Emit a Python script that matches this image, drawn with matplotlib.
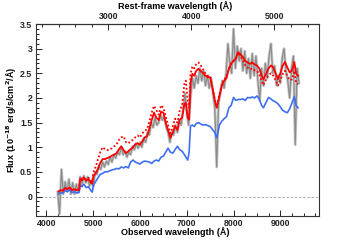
import numpy as np
import matplotlib
matplotlib.use("Agg")
import matplotlib.pyplot as plt
from matplotlib.ticker import MultipleLocator, FixedLocator

plt.rcParams['font.family'] = ['Liberation Sans', 'DejaVu Sans']

# model wavelength grid (Angstrom) and fluxes (1e-18 erg/s/cm2/A)
wave_model = [4260, 4300, 4350, 4400, 4450, 4500, 4550, 4600, 4650, 4700, 4720, 4760, 4800, 4850,
              4900, 4950, 4980, 5000, 5050, 5100, 5150, 5200, 5250, 5300, 5350, 5400, 5450, 5500,
              5550, 5600, 5650, 5700, 5750, 5800, 5850, 5900, 5950, 6000, 6050, 6100, 6150, 6200,
              6250, 6300, 6350, 6400, 6450, 6500, 6550, 6600, 6650, 6700, 6750, 6800, 6850, 6900,
              6950, 6980, 7020, 7050, 7080, 7120, 7160, 7200, 7250, 7300, 7350, 7400, 7450, 7500,
              7550, 7600, 7640, 7700, 7750, 7800, 7850, 7900, 7950, 8000, 8050, 8100, 8150, 8200,
              8250, 8300, 8350, 8400, 8450, 8500, 8550, 8600, 8640, 8700, 8750, 8800, 8850, 8900,
              8950, 9000, 9050, 9100, 9150, 9200, 9250, 9300, 9340, 9380]

red_solid = [0.10, 0.13, 0.12, 0.17, 0.15, 0.18, 0.13, 0.15, 0.13, 0.14, 0.36, 0.33, 0.38, 0.32,
             0.35, 0.28, 0.26, 0.40, 0.47, 0.56, 0.68, 0.76, 0.76, 0.78, 0.80, 0.83, 0.85, 0.88,
             0.96, 1.02, 0.94, 0.88, 0.92, 0.96, 1.00, 1.06, 1.08, 1.05, 1.12, 1.20, 1.22, 1.38,
             1.55, 1.70, 1.60, 1.55, 1.72, 1.70, 1.50, 1.35, 1.19, 1.30, 1.43, 1.35, 1.56, 1.60,
             1.88, 1.90, 1.60, 1.56, 2.30, 2.49, 2.45, 2.55, 2.59, 2.55, 2.50, 2.45, 2.42, 2.42,
             2.20, 1.95, 1.80, 2.05, 2.25, 2.35, 2.40, 2.59, 2.70, 2.75, 2.80, 2.93, 2.88, 2.83,
             2.75, 2.72, 2.69, 2.72, 2.68, 2.66, 2.60, 2.45, 2.38, 2.50, 2.60, 2.66, 2.62, 2.50,
             2.38, 2.50, 2.65, 2.73, 2.62, 2.52, 2.55, 2.73, 2.49, 2.45]

red_dotted = [0.10, 0.13, 0.12, 0.17, 0.15, 0.18, 0.13, 0.15, 0.13, 0.14, 0.37, 0.34, 0.40, 0.34,
              0.38, 0.32, 0.30, 0.48, 0.60, 0.75, 0.90, 1.00, 0.96, 0.94, 0.95, 0.98, 1.02, 1.06,
              1.15, 1.20, 1.22, 1.10, 1.08, 1.12, 1.15, 1.20, 1.24, 1.20, 1.28, 1.34, 1.36, 1.52,
              1.70, 1.84, 1.75, 1.66, 1.85, 1.80, 1.62, 1.45, 1.28, 1.42, 1.58, 1.50, 1.75, 1.85,
              2.30, 2.35, 1.95, 1.80, 2.48, 2.64, 2.60, 2.68, 2.72, 2.66, 2.58, 2.50, 2.45, 2.44,
              2.22, 1.97, 1.82, 2.07, 2.28, 2.38, 2.43, 2.60, 2.70, 2.75, 2.80, 2.92, 2.84, 2.76,
              2.66, 2.62, 2.58, 2.60, 2.56, 2.55, 2.48, 2.34, 2.26, 2.38, 2.46, 2.50, 2.45, 2.36,
              2.25, 2.36, 2.48, 2.55, 2.45, 2.36, 2.38, 2.55, 2.30, 2.28]

blue = [0.05, 0.08, 0.07, 0.12, 0.10, 0.14, 0.08, 0.10, 0.07, 0.09, 0.23, 0.20, 0.25, 0.18,
        0.20, 0.12, 0.09, 0.22, 0.30, 0.38, 0.45, 0.47, 0.50, 0.50, 0.52, 0.54, 0.55, 0.57,
        0.56, 0.60, 0.58, 0.61, 0.58, 0.70, 0.74, 0.70, 0.68, 0.66, 0.70, 0.72, 0.71, 0.70,
        0.67, 0.72, 0.74, 0.72, 0.80, 0.82, 0.90, 0.98, 0.90, 0.88, 0.95, 1.02, 0.95, 0.92,
        0.85, 0.80, 0.74, 0.90, 1.43, 1.45, 1.42, 1.48, 1.50, 1.47, 1.45, 1.46, 1.44, 1.42,
        1.36, 1.30, 1.19, 1.45, 1.53, 1.58, 1.62, 1.80, 1.85, 2.01, 1.95, 1.97, 1.97, 1.98,
        1.95, 2.01, 2.00, 2.02, 2.00, 2.04, 1.98, 1.85, 1.80, 1.92, 2.01, 1.98, 1.94, 1.92,
        1.88, 1.82, 1.75, 1.72, 1.70, 1.78, 1.90, 2.03, 1.84, 1.80]

# observed spectrum
wave_obs = [4240, 4280, 4320, 4360, 4400, 4440, 4480, 4520, 4560, 4600, 4640, 4680, 4720, 4760,
            4800, 4840, 4880, 4920, 4960, 5000, 5040, 5080, 5120, 5160, 5200, 5240, 5280, 5320,
            5360, 5400, 5440, 5480, 5520, 5560, 5600, 5640, 5680, 5720, 5760, 5800, 5840, 5880,
            5920, 5960, 6000, 6040, 6080, 6120, 6160, 6200, 6240, 6280, 6320, 6360, 6400, 6440,
            6480, 6520, 6560, 6600, 6640, 6680, 6720, 6760, 6800, 6840, 6880, 6920, 6960, 7000,
            7040, 7080, 7120, 7160, 7200, 7240, 7280, 7320, 7360, 7400, 7440, 7480, 7520, 7560,
            7600, 7640, 7680, 7720, 7760, 7800, 7840, 7880, 7920, 7960, 8000, 8040, 8080, 8120,
            8160, 8200, 8240, 8280, 8320, 8360, 8400, 8440, 8480, 8520, 8560, 8600, 8640, 8680,
            8720, 8760, 8800, 8840, 8880, 8920, 8960, 9000, 9040, 9080, 9120, 9160, 9200, 9240,
            9280, 9320, 9360, 9400]
flux_obs = [0.10, -0.35, 0.55, 0.05, 0.30, 0.10, 0.35, 0.05, 0.28, 0.05, 0.25, 0.08, 0.40, 0.25,
            0.42, 0.28, 0.40, 0.22, 0.32, 0.20, 0.50, 0.45, 0.62, 0.55, 0.70, 0.60, 0.72, 0.65,
            0.80, 0.70, 0.85, 0.78, 0.90, 0.85, 1.00, 0.85, 0.92, 0.80, 0.90, 0.85, 1.02, 0.95,
            1.08, 0.98, 1.10, 1.00, 1.18, 1.10, 1.30, 1.25, 1.50, 1.40, 1.60, 1.45, 1.50, 1.65,
            1.55, 1.62, 1.40, 1.30, 1.10, 1.30, 1.25, 1.45, 1.30, 1.55, 1.45, 1.75, 2.10, 1.70,
            1.45, 2.00, 2.40, 2.20, 2.45, 2.30, 2.60, 2.35, 2.55, 2.25, 2.45, 2.20, 2.40, 2.10,
            1.80, 0.60, 1.90, 2.10, 2.35, 2.20, 2.50, 3.10, 2.70, 2.50, 3.40, 2.60, 3.05, 2.75,
            3.00, 2.55, 2.95, 2.50, 2.80, 2.40, 2.90, 2.45, 2.85, 2.35, 1.95, 2.60, 2.25, 2.70,
            2.40, 2.85, 3.10, 2.50, 2.65, 2.25, 2.45, 2.30, 2.80, 3.00, 2.55, 2.35, 2.00, 2.60,
            2.85, 1.05, 2.60, 2.30]

rest_ticks = [3000, 4000, 5000]
redshift_factor = 1.775

fig = plt.figure(figsize=(3.55, 2.40), dpi=100)
ax = fig.add_axes([0.1006, 0.101, 0.7983, 0.799])

ax.axhline(0, color='#a0a0a0', lw=0.6, ls=(0, (3, 2)), zorder=1)
ax.plot(wave_obs, flux_obs, color='#c4c4c4', lw=2.0, zorder=2)
ax.plot(wave_obs, flux_obs, color='#8a8a8a', lw=0.8, zorder=3)
ax.plot(wave_model, blue, color='#3f6ef5', lw=1.2, zorder=4)
ax.plot(wave_model, red_dotted, color='#ff0000', lw=1.3, ls=(0, (1, 1.2)), zorder=5)
ax.plot(wave_model, red_solid, color='#ff0000', lw=1.3, zorder=6)

ax.set_xlim(3770, 9830)
ax.set_ylim(-0.39, 3.5)

ax.xaxis.set_major_locator(MultipleLocator(1000))
ax.xaxis.set_minor_locator(MultipleLocator(250))
ax.yaxis.set_major_locator(MultipleLocator(0.5))
ax.yaxis.set_minor_locator(MultipleLocator(0.1))
ax.yaxis.set_major_formatter(plt.FuncFormatter(lambda v, p: ('%g' % v)))

ax.tick_params(axis='both', which='both', direction='in', top=False, right=False,
               labelsize=6.3, colors='#222222', width=0.7, pad=2.5)
ax.tick_params(which='major', length=4.5)
ax.tick_params(which='minor', length=2.2)
for lbl in ax.get_xticklabels() + ax.get_yticklabels():
    lbl.set_fontweight('bold')
for s in ax.spines.values():
    s.set_linewidth(0.8)
    s.set_color('#333333')

sec = ax.secondary_xaxis('top', functions=(lambda x: x / redshift_factor,
                                            lambda x: x * redshift_factor))
sec.xaxis.set_major_locator(FixedLocator(rest_ticks))
sec.xaxis.set_minor_locator(MultipleLocator(200))
sec.tick_params(axis='x', which='both', direction='in', labelsize=6.3, colors='#222222',
                width=0.7, pad=2.0)
sec.tick_params(which='major', length=4.5)
sec.tick_params(which='minor', length=2.2)
for lbl in sec.get_xticklabels():
    lbl.set_fontweight('bold')

fig.text(0.493, 0.975, 'Rest-frame wavelength (Å)', fontsize=6.5, fontweight='bold',
         ha='center', va='center')
fig.text(0.493, 0.032, 'Observed wavelength (Å)', fontsize=6.5, fontweight='bold',
         ha='center', va='center')
fig.text(0.034, 0.50, 'Flux (10$^{\\mathbf{-18}}$ erg/s/cm$^{\\mathbf{2}}$/Å)', fontsize=6.5,
         fontweight='bold', ha='center', va='center', rotation=90)

fig.savefig('out.png', dpi=100)
